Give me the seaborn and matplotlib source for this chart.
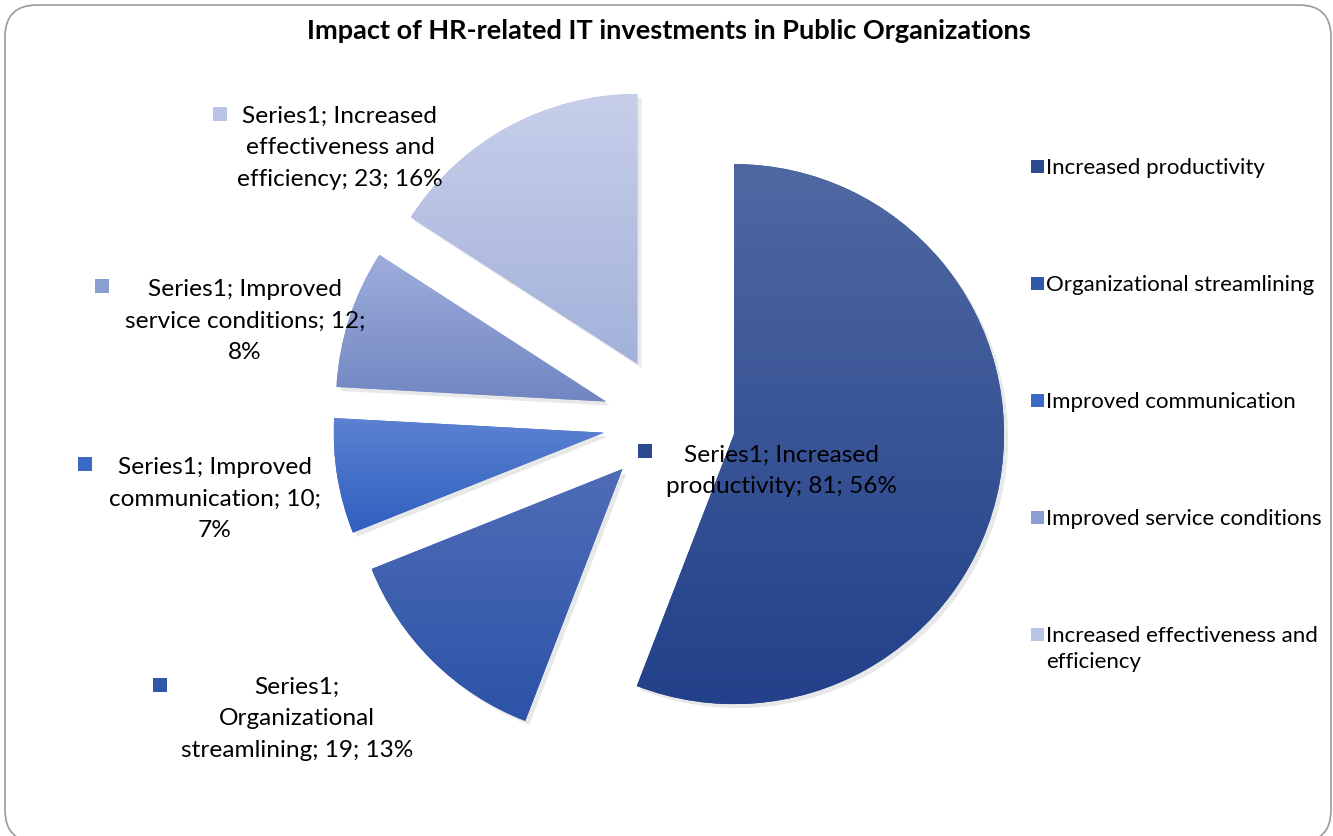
import numpy as np
import matplotlib
matplotlib.use("Agg")
import matplotlib.pyplot as plt
import matplotlib.patches as mpatches
from matplotlib.colors import to_rgb
import seaborn as sns

# data
categories = ["Increased productivity", "Organizational streamlining",
              "Improved communication", "Improved service conditions",
              "Increased effectiveness and efficiency"]
values = [81, 19, 10, 12, 23]
label_templates = [
    "Series1; Increased\nproductivity; {v}; {p}%",
    "Series1;\nOrganizational\nstreamlining; {v}; {p}%",
    "Series1; Improved\ncommunication; {v};\n{p}%",
    "Series1; Improved\nservice conditions; {v};\n{p}%",
    "Series1; Increased\neffectiveness and\nefficiency; {v}; {p}%",
]
legend_labels = ["Increased productivity", "Organizational streamlining",
                 "Improved communication", "Improved service conditions",
                 "Increased effectiveness and\nefficiency"]

# gradient colours (top, bottom) per slice
grad_top = ["#5068a2", "#4f6db6", "#5c82d2", "#9eaddb", "#c7cfea"]
grad_bot = ["#22418a", "#2c53a8", "#2f5fbf", "#7186c2", "#a3b1da"]
key_colors = ["#2c4a8e", "#2f58a8", "#3b6ac6", "#8a9ed2", "#bac4e4"]

sns.set_theme(style="white")
plt.rcParams["font.family"] = ["Lato", "DejaVu Sans"]

W, H = 1333, 837
R = 270.0  # pie radius in px
cx, cy = 669, 423  # pie centre in px (from top)

fig = plt.figure(figsize=(W / 100, H / 100), dpi=100)
ax = fig.add_axes([0, 0, 1, 1])


def fx(x):
    return x / W


def fy(y):
    return 1 - y / H


wedges, _ = ax.pie(values, startangle=90, counterclock=False, radius=1,
                   explode=[0.245] * len(values), colors=key_colors,
                   wedgeprops=dict(linewidth=0))

for i, w in enumerate(wedges):
    w.set_zorder(2)
    # soft shadow
    sh = mpatches.Wedge((w.center[0] + 4 / R, w.center[1] - 4 / R), w.r,
                        w.theta1, w.theta2, facecolor="#808080", alpha=0.18,
                        linewidth=0, zorder=1)
    ax.add_patch(sh)
    # vertical gradient fill clipped to the wedge
    bb = w.get_path().get_extents()
    grad = np.linspace(0, 1, 256)[:, None, None]
    img = (1 - grad) * np.array(to_rgb(grad_top[i])) + grad * np.array(to_rgb(grad_bot[i]))
    im = ax.imshow(img, extent=[bb.x0, bb.x1, bb.y0, bb.y1], origin="upper",
                   aspect="auto", interpolation="bicubic", zorder=3)
    im.set_clip_path(w)

ax.set_aspect("auto")
ax.set_xlim(-cx / R, (W - cx) / R)
ax.set_ylim(-(H - cy) / R, cy / R)
ax.axis("off")

total = sum(values)
pcts = [round(v / total * 100) for v in values]

# data labels: text centre (x, y) and key marker position in px
label_pos = [(781, 471), (297, 719), (215, 499), (245, 321), (340, 148)]
key_pos = [(645, 452), (160, 686), (85, 465), (102, 287), (220, 115)]
for i in range(len(values)):
    txt = label_templates[i].format(v=values[i], p=pcts[i])
    fig.text(fx(label_pos[i][0]), fy(label_pos[i][1]), txt, ha="center",
             va="center", multialignment="center", fontsize=17.6,
             linespacing=1.64, color="black", zorder=5)
    fig.patches.append(mpatches.Rectangle(
        (fx(key_pos[i][0] - 7), fy(key_pos[i][1] + 7)), 14 / W, 14 / H,
        transform=fig.transFigure, facecolor=key_colors[i], linewidth=0,
        zorder=5))

# legend on the right
leg_y = [167, 284, 401, 518, 635]
for i, lab in enumerate(legend_labels):
    fig.patches.append(mpatches.Rectangle(
        (fx(1031), fy(leg_y[i] + 7)), 13 / W, 13 / H,
        transform=fig.transFigure, facecolor=key_colors[i], linewidth=0))
    fig.text(fx(1046), fy(leg_y[i] - 9), lab, ha="left", va="top",
             fontsize=16, linespacing=1.4, color="black")

fig.text(fx(669), fy(31), "Impact of HR-related IT investments in Public Organizations",
         ha="center", va="center", fontsize=19.5, fontweight="bold", color="black")

# rounded frame
frame = mpatches.FancyBboxPatch((5, -6), 1326, 837,
                                boxstyle="round,pad=0,rounding_size=32",
                                transform=None, facecolor="none",
                                edgecolor="#9a9a9a", linewidth=1.2)
fig.patches.append(frame)

fig.savefig("out.png", dpi=100)
